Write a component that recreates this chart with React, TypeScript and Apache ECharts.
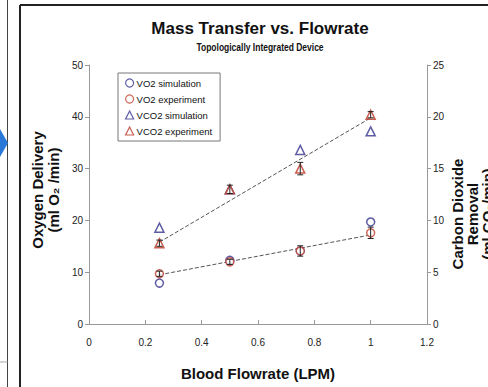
import React, { useEffect, useRef } from "react";
import * as echarts from "echarts";

const xValues = [0.25, 0.5, 0.75, 1.0];
const vo2Sim = [7.9, 12.3, 14.1, 19.7];
const vo2Exp = [9.7, 12.0, 14.1, 17.6];
const vo2Err = [0.5, 0.5, 1.0, 1.1];
const vco2Sim = [9.3, 13.0, 16.8, 18.6];
const vco2Exp = [7.8, 13.0, 15.0, 20.2];
const vco2Err = [0.3, 0.4, 0.6, 0.3];
const trendX = [0.25, 1.0];
const vo2Trend = [9.5, 17.2];
const vco2Trend = [7.9, 19.9];
const legendNames = ["VO2 simulation", "VO2 experiment", "VCO2 simulation", "VCO2 experiment"];

const BLUE = "#35338f";
const RED = "#c2412f";
const FONT = "Arial, 'Liberation Sans', sans-serif";

const pts = (ys: number[]) => xValues.map((x, i) => [x, ys[i]]);
const errPts = (ys: number[], es: number[]) => xValues.map((x, i) => [x, ys[i], es[i]]);

const errRender = (params: any, api: any) => {
  const x = api.value(0);
  const y = api.value(1);
  const e = api.value(2);
  const top = api.coord([x, y + e]);
  const bot = api.coord([x, y - e]);
  const w = 3;
  const st = { stroke: "#222", lineWidth: 1 };
  return {
    type: "group",
    children: [
      { type: "line", shape: { x1: top[0], y1: top[1], x2: bot[0], y2: bot[1] }, style: st },
      { type: "line", shape: { x1: top[0] - w, y1: top[1], x2: top[0] + w, y2: top[1] }, style: st },
      { type: "line", shape: { x1: bot[0] - w, y1: bot[1], x2: bot[0] + w, y2: bot[1] }, style: st },
    ],
  };
};

export default function App() {
  const ref = useRef<HTMLDivElement>(null);
  useEffect(() => {
    if (!ref.current) return;
    const chart = echarts.init(ref.current, null, { renderer: "svg" });
    const axisLabel = { color: "#222", fontSize: 10, fontFamily: FONT };
    chart.setOption({
      animation: false,
      backgroundColor: "#fff",
      grid: { left: 89, right: 61, top: 65, bottom: 63 },
      legend: {
        data: legendNames,
        orient: "vertical",
        left: 118,
        top: 73,
        padding: [5, 8, 5, 7],
        itemGap: 6,
        itemWidth: 8,
        itemHeight: 8,
        borderColor: "#777",
        borderWidth: 1,
        backgroundColor: "#fff",
        textStyle: { fontSize: 9.5, color: "#111", fontFamily: FONT, padding: [0, 0, 0, -2] },
        itemStyle: { borderWidth: 1.2 },
      },
      xAxis: {
        type: "value",
        min: 0,
        max: 1.2,
        interval: 0.2,
        splitLine: { show: false },
        axisLine: { lineStyle: { color: "#999" } },
        axisTick: { inside: true, length: 4, lineStyle: { color: "#999" } },
        axisLabel: { ...axisLabel, margin: 13 },
      },
      yAxis: [
        {
          type: "value",
          min: 0,
          max: 50,
          interval: 10,
          splitLine: { show: false },
          axisLine: { show: true, lineStyle: { color: "#999" } },
          axisTick: { show: true, length: 4, lineStyle: { color: "#999" } },
          axisLabel: { ...axisLabel, margin: 6 },
        },
        {
          type: "value",
          min: 0,
          max: 25,
          interval: 5,
          position: "right",
          splitLine: { show: false },
          axisLine: { show: true, lineStyle: { color: "#999" } },
          axisTick: { show: true, length: 4, lineStyle: { color: "#999" } },
          axisLabel: { ...axisLabel, margin: 6 },
        },
      ],
      series: [
        {
          type: "line",
          data: trendX.map((x, i) => [x, vo2Trend[i]]),
          yAxisIndex: 0,
          symbol: "none",
          lineStyle: { color: "#555", width: 1, type: [4, 2] },
          z: 1,
          silent: true,
        },
        {
          type: "line",
          data: trendX.map((x, i) => [x, vco2Trend[i]]),
          yAxisIndex: 1,
          symbol: "none",
          lineStyle: { color: "#555", width: 1, type: [4, 2] },
          z: 1,
          silent: true,
        },
        {
          name: "VO2 simulation",
          type: "scatter",
          yAxisIndex: 0,
          data: pts(vo2Sim),
          symbol: "circle",
          symbolSize: 8,
          itemStyle: { color: "#fff", borderColor: BLUE, borderWidth: 1.5 },
          z: 2,
        },
        {
          name: "VO2 experiment",
          type: "scatter",
          yAxisIndex: 0,
          data: pts(vo2Exp),
          symbol: "circle",
          symbolSize: 8,
          itemStyle: { color: "#fff", borderColor: RED, borderWidth: 1.5 },
          z: 3,
        },
        {
          name: "VCO2 simulation",
          type: "scatter",
          yAxisIndex: 1,
          data: pts(vco2Sim),
          symbol: "triangle",
          symbolSize: 9,
          itemStyle: { color: "#fff", borderColor: BLUE, borderWidth: 1.5 },
          z: 2,
        },
        {
          name: "VCO2 experiment",
          type: "scatter",
          yAxisIndex: 1,
          data: pts(vco2Exp),
          symbol: "triangle",
          symbolSize: 9,
          itemStyle: { color: "rgba(255,255,255,0.4)", borderColor: RED, borderWidth: 1.5, opacity: 0.85 },
          z: 3,
        },
        {
          type: "custom",
          yAxisIndex: 0,
          data: errPts(vo2Exp, vo2Err),
          renderItem: errRender,
          z: 4,
          silent: true,
        },
        {
          type: "custom",
          yAxisIndex: 1,
          data: errPts(vco2Exp, vco2Err),
          renderItem: errRender,
          z: 4,
          silent: true,
        },
      ],
      graphic: [
        { type: "line", shape: { x1: 20, y1: 5, x2: 488, y2: 5 }, style: { stroke: "#222", lineWidth: 2 } },
        { type: "line", shape: { x1: 20, y1: 5, x2: 20, y2: 387 }, style: { stroke: "#222", lineWidth: 2 } },
        { type: "line", shape: { x1: 7.5, y1: 0, x2: 7.5, y2: 387 }, style: { stroke: "#444", lineWidth: 1 } },
        { type: "line", shape: { x1: 0, y1: 362, x2: 7.5, y2: 362 }, style: { stroke: "#aaa", lineWidth: 1 } },
        {
          type: "polygon",
          shape: { points: [[0, 129], [8, 143], [0, 157]] },
          style: { fill: "#2a78d8" },
        },
        {
          type: "text",
          x: 260,
          y: 28,
          style: {
            text: "Mass Transfer vs. Flowrate",
            font: `bold 17px ${FONT}`,
            fill: "#111",
            align: "center",
            verticalAlign: "middle",
          },
        },
        {
          type: "text",
          x: 260,
          y: 48,
          scaleX: 0.85,
          style: {
            text: "Topologically Integrated Device",
            font: `bold 10px ${FONT}`,
            fill: "#111",
            align: "center",
            verticalAlign: "middle",
          },
        },
        {
          type: "text",
          x: 45,
          y: 190,
          rotation: Math.PI / 2,
          style: {
            text: "Oxygen Delivery\n(ml O₂ /min)",
            font: `bold 15px ${FONT}`,
            lineHeight: 16,
            fill: "#111",
            align: "center",
            verticalAlign: "middle",
          },
        },
        {
          type: "text",
          x: 472,
          y: 214,
          rotation: Math.PI / 2,
          style: {
            text: "Carbon Dioxide\nRemoval\n(ml CO₂/min)",
            font: `bold 15px ${FONT}`,
            lineHeight: 15,
            fill: "#111",
            align: "center",
            verticalAlign: "middle",
          },
        },
        {
          type: "text",
          x: 258,
          y: 373,
          style: {
            text: "Blood Flowrate (LPM)",
            font: `bold 15px ${FONT}`,
            fill: "#111",
            align: "center",
            verticalAlign: "middle",
          },
        },
      ],
    });
    return () => chart.dispose();
  }, []);
  return (
    <div
      ref={ref}
      style={{ position: "fixed", left: 0, top: 0, width: 488, height: 387, background: "#fff" }}
    />
  );
}
